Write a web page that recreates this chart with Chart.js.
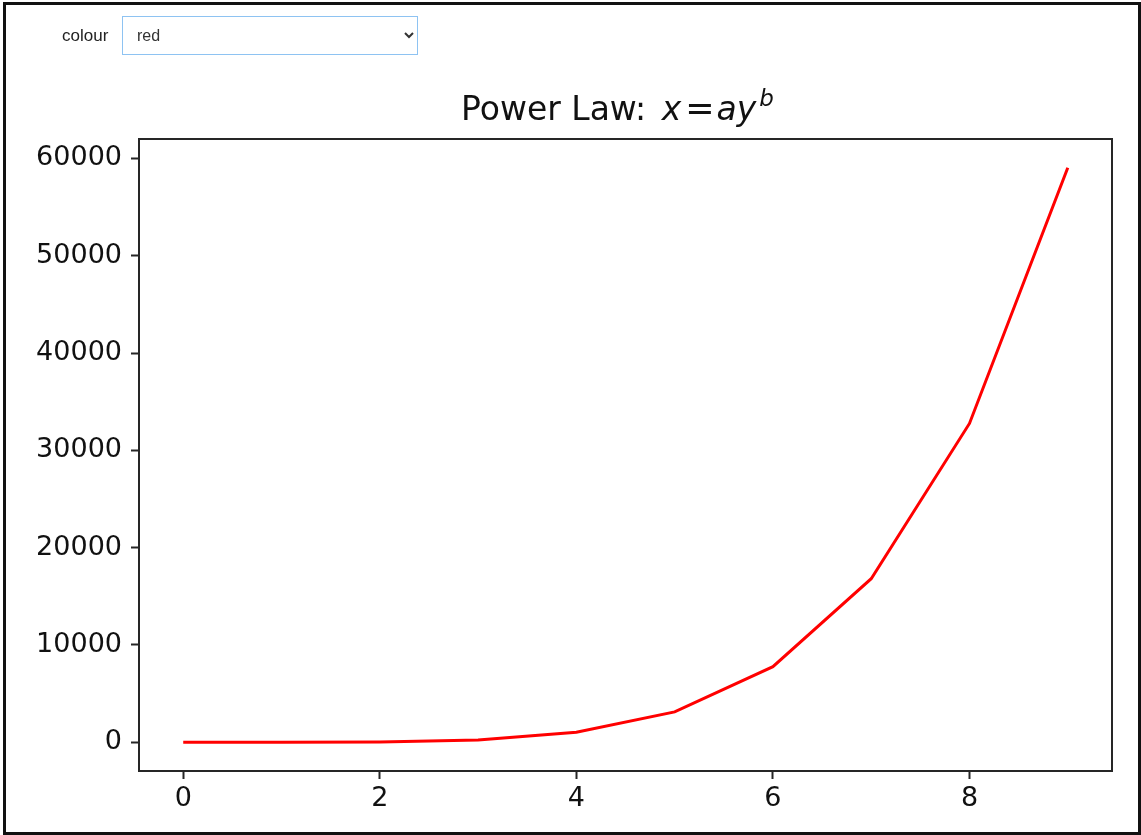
<!DOCTYPE html>
<html>
<head>
<meta charset="utf-8">
<script src="https://cdn.jsdelivr.net/npm/chart.js@4.4.1/dist/chart.umd.min.js"></script>
<style>
  html, body { margin: 0; padding: 0; background: #fff; }
  #wrap { position: relative; width: 1141px; height: 835px; overflow: hidden; }
  #frame { position: absolute; left: 3px; top: 2px; width: 1132px; height: 827px; border: 3px solid #111; }
  #chart { position: absolute; left: 0; top: 0; }
  #ctl { position: absolute; left: 62px; top: 16px; font-family: Arial, "Liberation Sans", sans-serif; color: #222; }
  #ctl label { position: absolute; left: 0; top: 10px; font-size: 17px; }
  #ctl select { position: absolute; left: 60px; top: 0; width: 296px; height: 39px; border: 1px solid #8ec3f2; background: #fff;
    font-family: Arial, "Liberation Sans", sans-serif; font-size: 16px; color: #333; padding-left: 10px; border-radius: 0; outline: none; }
  #title { position: absolute; left: 461px; top: 88px; font-family: "DejaVu Sans", sans-serif; font-size: 33px; line-height: 40px;
    color: #111; white-space: nowrap; }
  #title i { font-style: oblique; }
  #title .mx { margin-left: 5px; }
  #title .eq { font-size: 35px; margin: 0 2px 0 4px; }
  #title sup { font-size: 23px; vertical-align: 14px; line-height: 0; margin-left: 3px; }
</style>
</head>
<body>
<div id="wrap">
  <canvas id="chart" width="1141" height="835"></canvas>
  <div id="ctl">
    <label for="colour">colour</label>
    <select id="colour"><option>red</option><option>green</option><option>blue</option></select>
  </div>
  <div id="title">Power Law: <i class="mx">x</i><span class="eq">=</span><i>ay</i><sup><i>b</i></sup></div>
  <div id="frame"></div>
</div>
<script>
// data
const xValues = [0, 1, 2, 3, 4, 5, 6, 7, 8, 9];
const yValues = [0, 1, 32, 243, 1024, 3125, 7776, 16807, 32768, 59049];
const xTicks = [0, 2, 4, 6, 8];
const yTicks = [0, 10000, 20000, 30000, 40000, 50000, 60000];
const lineColour = 'red';

const axisColour = '#262626';
const tickFont = { family: 'DejaVu Sans', size: 27 };

// full box around the plot, like matplotlib spines
const boxPlugin = {
    id: 'box',
    afterDraw(chart) {
        const a = chart.chartArea;
        const ctx = chart.ctx;
        ctx.save();
        ctx.strokeStyle = axisColour;
        ctx.lineWidth = 2;
        ctx.strokeRect(a.left, a.top, a.right - a.left, a.bottom - a.top);
        ctx.restore();
    }
};

const ctx = document.getElementById('chart').getContext('2d');
const myChart = new Chart(ctx, {
    type: 'line',
    data: {
        datasets: [{
            data: xValues.map((x, i) => ({ x: x, y: yValues[i] })),
            borderColor: lineColour,
            borderWidth: 3,
            pointRadius: 0,
            tension: 0,
            fill: false,
        }],
    },
    options: {
        responsive: false,
        animation: false,
        layout: { padding: { top: 139, right: 29, left: 0, bottom: 0 } },
        plugins: {
            legend: { display: false },
            title: { display: false },
            tooltip: { enabled: false },
        },
        scales: {
            x: {
                type: 'linear',
                min: -0.45,
                max: 9.45,
                afterFit: (s) => { s.height = 64; },
                afterBuildTicks: (s) => { s.ticks = xTicks.map(v => ({ value: v })); },
                border: { display: false },
                grid: { drawOnChartArea: false, drawTicks: true, tickLength: 8, tickWidth: 2, tickColor: axisColour },
                ticks: { color: '#111', font: tickFont, padding: 4, maxRotation: 0 },
            },
            y: {
                type: 'linear',
                min: -2952,
                max: 62001,
                afterFit: (s) => { s.width = 139; },
                afterBuildTicks: (s) => { s.ticks = yTicks.map(v => ({ value: v })); },
                border: { display: false },
                grid: { drawOnChartArea: false, drawTicks: true, tickLength: 8, tickWidth: 2, tickColor: axisColour },
                ticks: { color: '#111', font: tickFont, padding: 9, callback: (v) => String(v) },
            },
        },
    },
    plugins: [boxPlugin],
});
</script>
</body>
</html>
